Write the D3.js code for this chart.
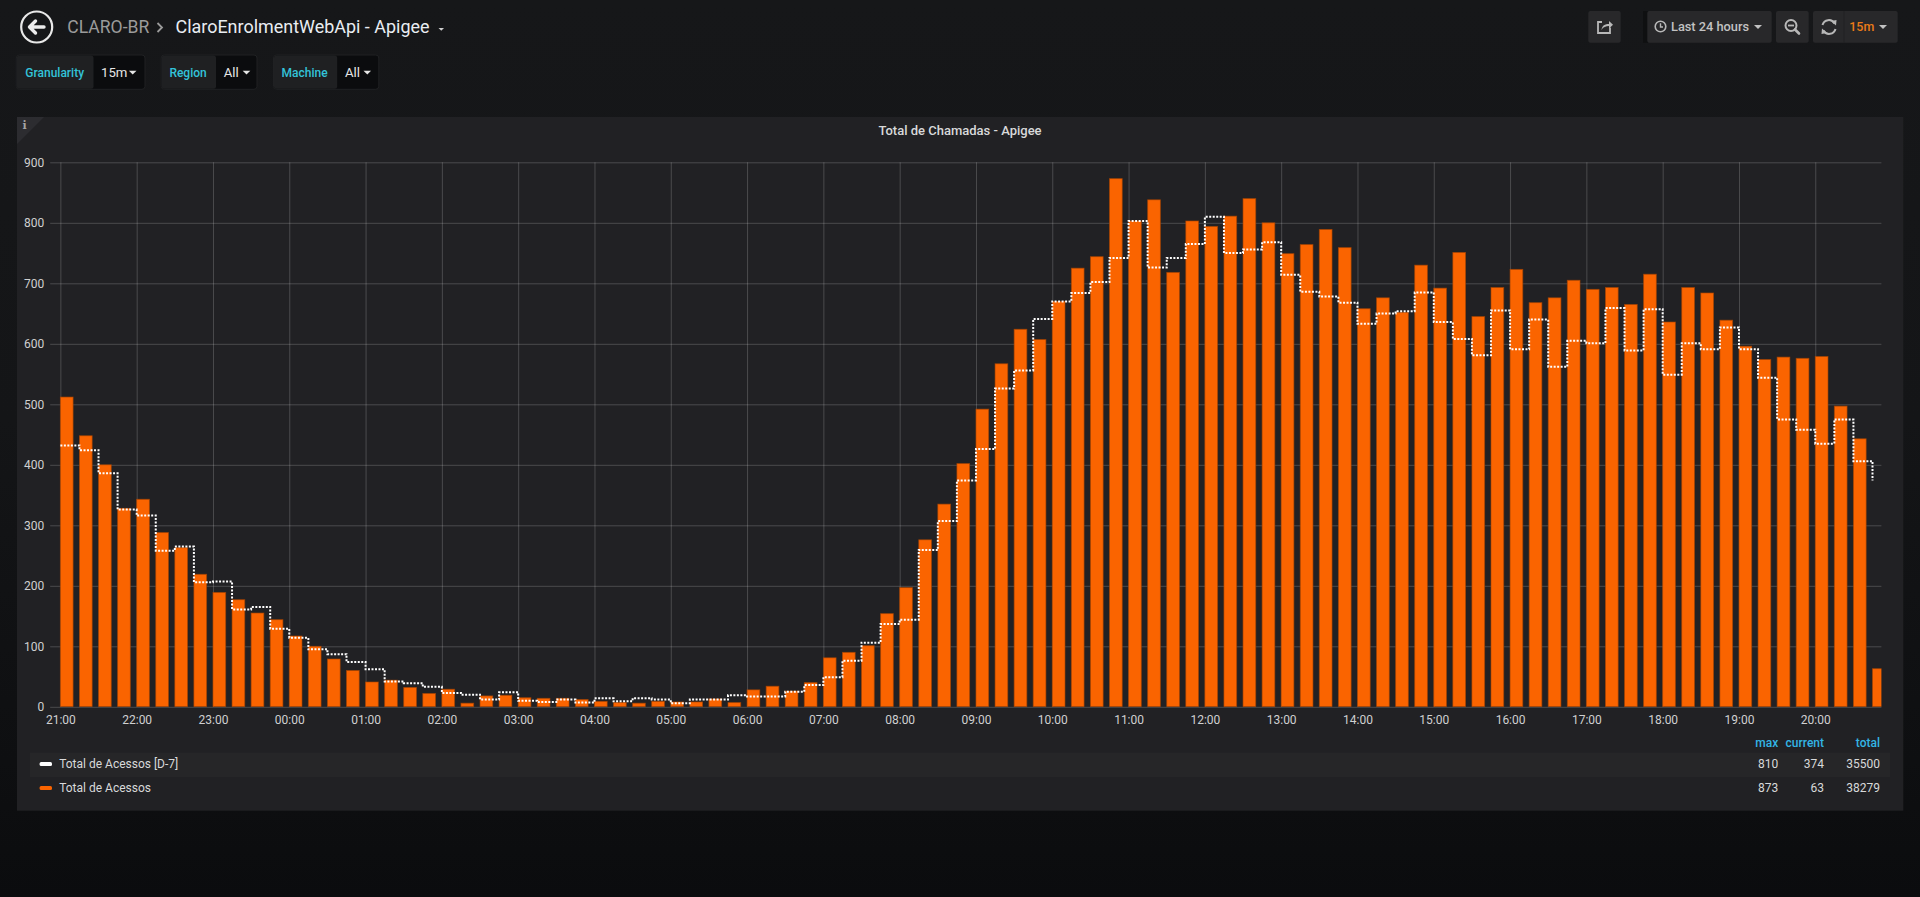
<!DOCTYPE html>
<html><head><meta charset="utf-8">
<script src="https://cdn.jsdelivr.net/npm/d3@7"></script>
<style>
html,body{margin:0;padding:0;}
body{width:1920px;height:897px;overflow:hidden;background:linear-gradient(to bottom,#161719 0px,#141517 420px,#0e0f11 760px,#0b0c0e 897px);font-family:Roboto,"Noto Sans",sans-serif;}
svg{display:block;}
</style></head><body>
<svg id="c" width="1920" height="897"></svg>
<script>
// ---------------- DATA ----------------
const slotTimes = [
"21:00","21:15","21:30","21:45","22:00","22:15","22:30","22:45","23:00","23:15","23:30","23:45",
"00:00","00:15","00:30","00:45","01:00","01:15","01:30","01:45","02:00","02:15","02:30","02:45",
"03:00","03:15","03:30","03:45","04:00","04:15","04:30","04:45","05:00","05:15","05:30","05:45",
"06:00","06:15","06:30","06:45","07:00","07:15","07:30","07:45","08:00","08:15","08:30","08:45",
"09:00","09:15","09:30","09:45","10:00","10:15","10:30","10:45","11:00","11:15","11:30","11:45",
"12:00","12:15","12:30","12:45","13:00","13:15","13:30","13:45","14:00","14:15","14:30","14:45",
"15:00","15:15","15:30","15:45","16:00","16:15","16:30","16:45","17:00","17:15","17:30","17:45",
"18:00","18:15","18:30","18:45","19:00","19:15","19:30","19:45","20:00","20:15","20:30","20:45"];

const totalAcessos = [
512,448,400,328, 343,288,263,219, 189,177,155,144,
117,100,79,60, 41,44,32,22, 29,6,18,19,
15,14,14,12, 9,7,6,9, 8,8,13,7,
28,34,26,40, 81,90,101,154, 197,276,335,402,
492,567,624,607, 670,725,744,873, 803,838,718,803,
794,811,840,800, 749,764,789,759, 658,676,652,730,
692,751,645,693, 723,668,676,705, 690,693,665,715,
636,693,684,639, 596,574,578,576, 579,497,443,63];

const totalAcessosD7 = [
432,424,386,326, 316,258,265,206, 207,161,165,129,
114,95,87,74, 62,42,39,33, 23,20,12,24,
10,8,12,7, 14,9,14,12, 6,12,12,19,
17,17,25,36, 49,76,106,137, 144,259,307,374,
426,526,556,641, 670,684,702,742, 803,726,742,765,
810,750,756,768, 714,686,678,668, 633,650,654,685,
636,608,581,655, 591,640,562,605, 601,659,589,657,
549,601,591,627, 591,544,475,458, 435,475,406,374];

const hourTicks = ["21:00","22:00","23:00","00:00","01:00","02:00","03:00","04:00","05:00","06:00","07:00","08:00",
"09:00","10:00","11:00","12:00","13:00","14:00","15:00","16:00","17:00","18:00","19:00","20:00"];
const yTicks = [0,100,200,300,400,500,600,700,800,900];

const seriesNames = ["Total de Acessos [D-7]","Total de Acessos"];
const seriesColors = ["#ffffff","#FA6400"];
const legendHeaders = ["max","current","total"];
const legendMax = [810,873];
const legendCurrent = [374,63];
const legendTotal = [35500,38279];

const panelTitle = "Total de Chamadas - Apigee";
const crumbs = ["CLARO-BR","ClaroEnrolmentWebApi - Apigee"];
const variables = [["Granularity","15m"],["Region","All"],["Machine","All"]];

// ---------------- HELPERS ----------------
function toDate(hm){const [h,m]=hm.split(":").map(Number);return new Date(Date.UTC(2018,0,h>=21?1:2,h,m));}
const svg = d3.select("#c");
const FONT = "Roboto, 'Noto Sans', sans-serif";

// ---------------- HEADER ----------------
const hdr = svg.append("g");
hdr.append("circle").attr("cx",36.7).attr("cy",27).attr("r",15.5).attr("fill","none").attr("stroke","#e8e8e8").attr("stroke-width",2.2);
hdr.append("path").attr("d","M29.5,27 L35.5,21 M29.5,27 L35.5,33 M30,27 L44,27").attr("fill","none")
  .attr("stroke","#ececec").attr("stroke-width",3.4).attr("stroke-linecap","round").attr("stroke-linejoin","round");
hdr.append("text").attr("x",67.3).attr("y",33.3).attr("font-family",FONT).attr("font-size",17.6).attr("fill","#9b9b9b")
  .attr("textLength",82).attr("lengthAdjust","spacingAndGlyphs").text(crumbs[0]);
hdr.append("path").attr("d","M157.5,23 L162,27.5 L157.5,32").attr("fill","none").attr("stroke","#9b9b9b").attr("stroke-width",1.8);
hdr.append("text").attr("x",175.5).attr("y",33.3).attr("font-family",FONT).attr("font-size",17.6).attr("fill","#e9edf2")
  .attr("textLength",254).attr("lengthAdjust","spacingAndGlyphs").text(crumbs[1]);
hdr.append("path").attr("d","M438.5,28 L444,28 L441.25,30.8 Z").attr("fill","#cfcfcf");

// variables
const varBoxes = [[16.3,93,145,25.3,101,132.7],[161.2,215.5,257,169.4,223.7,246.5],[273.5,336.7,378.8,281.6,345,367.3]];
variables.forEach((v,i)=>{
  const [x0,xs,x1,tl,tv,tc]=varBoxes[i];
  hdr.append("rect").attr("x",x0).attr("y",55).attr("width",x1-x0).attr("height",34.3).attr("rx",3).attr("fill","#0b0c0e").attr("stroke","#202123");
  hdr.append("rect").attr("x",x0+0.5).attr("y",55.5).attr("width",xs-x0).attr("height",33.3).attr("rx",2.5).attr("fill","#1f2022");
  hdr.append("text").attr("x",tl).attr("y",76.8).attr("font-family",FONT).attr("font-size",12).attr("font-weight",500).attr("fill","#33c3d9").text(v[0]);
  hdr.append("text").attr("x",tv).attr("y",77.4).attr("font-family",FONT).attr("font-size",13.2).attr("fill","#e6e6e6").text(v[1]);
  hdr.append("path").attr("d",`M${tc-3.8},70.8 L${tc+3.8},70.8 L${tc},74.6 Z`).attr("fill","#e6e6e6");
});

// right buttons
const BTN="#28282a";
function btn(x0,x1){hdr.append("rect").attr("x",x0).attr("y",11).attr("width",x1-x0).attr("height",31.7).attr("rx",2).attr("fill",BTN);}
btn(1588.3,1620.7);
hdr.append("rect").attr("x",1643).attr("y",11).attr("width",5).attr("height",31.7).attr("fill","#0f1011");
btn(1647.3,1771.7); btn(1776,1808.7); btn(1813,1897.7);
hdr.append("line").attr("x1",1844).attr("x2",1844).attr("y1",11).attr("y2",42.7).attr("stroke","#202022");
const IC="#b8b8b8";
// share icon
hdr.append("path").attr("d","M1610,27.5 L1610,33 L1598,33 L1598,22 L1602,22").attr("fill","none").attr("stroke",IC).attr("stroke-width",1.8);
hdr.append("path").attr("d","M1601.5,30 C1602,25.5 1605,24 1609,24 L1609,21 L1613,24.8 L1609,28.6 L1609,26 C1606,26 1603,27 1601.5,30 Z").attr("fill",IC);
// clock
hdr.append("circle").attr("cx",1660.5).attr("cy",26.5).attr("r",5.3).attr("fill","none").attr("stroke",IC).attr("stroke-width",1.6);
hdr.append("path").attr("d","M1660.5,23.3 L1660.5,27 L1663,27").attr("fill","none").attr("stroke",IC).attr("stroke-width",1.4);
hdr.append("text").attr("x",1671).attr("y",31.2).attr("font-family",FONT).attr("font-size",13).attr("font-weight",500).attr("fill","#c2c2c2")
  .attr("textLength",78).attr("lengthAdjust","spacingAndGlyphs").text("Last 24 hours");
hdr.append("path").attr("d","M1754,25 L1762,25 L1758,29 Z").attr("fill","#c2c2c2");
// zoom out
hdr.append("circle").attr("cx",1791).attr("cy",25.5).attr("r",5.5).attr("fill","none").attr("stroke",IC).attr("stroke-width",2);
hdr.append("line").attr("x1",1788).attr("x2",1794).attr("y1",25.5).attr("y2",25.5).attr("stroke",IC).attr("stroke-width",1.8);
hdr.append("line").attr("x1",1795).attr("y1",29.5).attr("x2",1799).attr("y2",33.5).attr("stroke",IC).attr("stroke-width",2.6).attr("stroke-linecap","round");
// refresh
hdr.append("path").attr("d","M1822.5,25 A6.5,6.5 0 0 1 1834.5,23.5").attr("fill","none").attr("stroke",IC).attr("stroke-width",2);
hdr.append("path").attr("d","M1835.5,29 A6.5,6.5 0 0 1 1823.5,30.5").attr("fill","none").attr("stroke",IC).attr("stroke-width",2);
hdr.append("path").attr("d","M1831,21 L1836.5,20 L1836,25.5 Z").attr("fill",IC);
hdr.append("path").attr("d","M1827,33 L1821.5,34 L1822,28.5 Z").attr("fill",IC);
hdr.append("text").attr("x",1849.3).attr("y",31.3).attr("font-family",FONT).attr("font-size",13.2).attr("font-weight",500).attr("fill","#eb7b18")
  .attr("textLength",25).attr("lengthAdjust","spacingAndGlyphs").text("15m");
hdr.append("path").attr("d","M1879,25 L1887,25 L1883,29 Z").attr("fill","#c2c2c2");

// ---------------- PANEL ----------------
const P = {x:17, y:117, w:1886.3, h:693.7};
svg.append("rect").attr("x",P.x).attr("y",P.y).attr("width",P.w).attr("height",P.h).attr("fill","#212124");
svg.append("path").attr("d",`M${P.x},${P.y} L${P.x+27},${P.y} L${P.x},${P.y+27} Z`).attr("fill","#2c2c30");
svg.append("text").attr("x",24.7).attr("y",129).attr("font-family","'DejaVu Serif', serif").attr("font-size",11).attr("font-weight","bold").attr("fill","#a5a5a5").attr("text-anchor","middle").text("i");
svg.append("text").attr("x",960).attr("y",135.2).attr("text-anchor","middle").attr("font-family",FONT).attr("font-size",13).attr("font-weight",500).attr("fill","#d8d9da").text(panelTitle);

// ---------------- CHART ----------------
const X0=50.2, X1=1881.4, Y0=706.8, Y1=162.3;
const x = d3.scaleUtc().domain([new Date(Date.UTC(2018,0,1,20,52)), new Date(Date.UTC(2018,0,2,20,52))]).range([X0,X1]);
const y = d3.scaleLinear().domain([0,900]).range([Y0,Y1]);
const times = slotTimes.map(toDate);
const tickDates = hourTicks.map(toDate);

const GRID="rgba(255,255,255,0.19)";
// horizontal grid
const gy = svg.append("g").attr("transform",`translate(${X0},0)`)
  .call(d3.axisLeft(y).tickValues(yTicks).tickSize(-(X1-X0)).tickPadding(6).tickFormat(d3.format("d")));
gy.select(".domain").remove();
gy.selectAll(".tick line").attr("stroke",GRID).attr("stroke-width",1);
gy.selectAll(".tick text").attr("fill","#d0d0d1").attr("font-family",FONT).attr("font-size",12);
// vertical grid
const gv = svg.append("g").attr("transform",`translate(0,${Y1})`)
  .call(d3.axisBottom(x).tickValues(tickDates).tickSize(Y0-Y1).tickFormat(""));
gv.select(".domain").remove();
gv.selectAll(".tick line").attr("stroke",GRID).attr("stroke-width",1);
// x labels
const gx = svg.append("g").attr("transform",`translate(0,${Y0})`)
  .call(d3.axisBottom(x).tickValues(tickDates).tickSize(0).tickPadding(9).tickFormat(d3.utcFormat("%H:%M")));
gx.select(".domain").remove();
gx.selectAll(".tick text").attr("fill","#d0d0d1").attr("font-family",FONT).attr("font-size",12);

svg.append("clipPath").attr("id","plotclip").append("rect").attr("x",X0).attr("y",Y1-20).attr("width",X1-X0).attr("height",Y0-Y1+20);
const plot = svg.append("g").attr("clip-path","url(#plotclip)");

plot.selectAll("rect.bar").data(totalAcessos).join("rect").attr("class","bar")
  .attr("x",(d,i)=>x(times[i]))
  .attr("width",(d,i)=>x(d3.utcMinute.offset(times[i],10))-x(times[i]))
  .attr("y",d=>y(d)).attr("height",d=>Y0-y(d))
  .attr("fill",seriesColors[1]).attr("stroke","#a84500").attr("stroke-opacity",0.7).attr("stroke-width",0.9);

const line = d3.line().x((d,i)=>x(times[i])).y(d=>y(d)).curve(d3.curveStepAfter);
plot.append("path").datum(totalAcessosD7).attr("d",line).attr("fill","none")
  .attr("stroke",seriesColors[0]).attr("stroke-width",2).attr("stroke-dasharray","2,1.5");

// ---------------- LEGEND ----------------
const colRight=[1778.3,1824,1880];
legendHeaders.forEach((h,i)=>{
  svg.append("text").attr("x",colRight[i]).attr("y",746.5).attr("text-anchor","end").attr("font-family",FONT)
    .attr("font-size",12).attr("font-weight",500).attr("fill","#33b5e5").text(h);
});
svg.append("rect").attr("x",29.8).attr("y",752.7).attr("width",1890-29.8).attr("height",24.3).attr("fill","#262628");
const rowsY=[764,788];
seriesNames.forEach((n,i)=>{
  svg.append("rect").attr("x",39.6).attr("y",rowsY[i]-2).attr("width",12.4).attr("height",4).attr("rx",1.5).attr("fill",seriesColors[i]);
  svg.append("text").attr("x",59.2).attr("y",rowsY[i]+4.2).attr("font-family",FONT).attr("font-size",12).attr("fill","#d8d9da").text(n);
  [legendMax[i],legendCurrent[i],legendTotal[i]].forEach((v,j)=>{
    svg.append("text").attr("x",colRight[j]).attr("y",rowsY[i]+4.2).attr("text-anchor","end").attr("font-family",FONT)
      .attr("font-size",12).attr("fill","#d8d9da").text(v);
  });
});
</script></body></html>
